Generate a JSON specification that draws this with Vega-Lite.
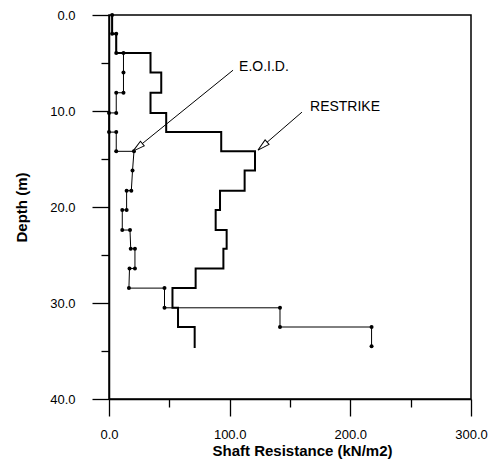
{
  "$schema": "https://vega.github.io/schema/vega-lite/v6.json",
  "width": 362,
  "height": 384,
  "autosize": {"type": "none"},
  "padding": {"left": 109, "top": 15, "right": 28, "bottom": 67},
  "background": "white",
  "config": {
    "view": {"stroke": "black", "strokeWidth": 1.5},
    "font": "Liberation Sans",
    "text": {"font": "Liberation Sans"}
  },
  "resolve": {"axis": {"x": "independent", "y": "independent"}},
  "datasets": {
    "profiles": [
      {"series": "E.O.I.D.", "i": 1, "res": 2.6, "depth": 0},
      {"series": "E.O.I.D.", "i": 2, "res": 2.6, "depth": 1.95},
      {"series": "E.O.I.D.", "i": 3, "res": 6, "depth": 1.95},
      {"series": "E.O.I.D.", "i": 4, "res": 6, "depth": 3.95},
      {"series": "E.O.I.D.", "i": 5, "res": 12, "depth": 3.95},
      {"series": "E.O.I.D.", "i": 6, "res": 12, "depth": 6.0},
      {"series": "E.O.I.D.", "i": 7, "res": 12, "depth": 8.1},
      {"series": "E.O.I.D.", "i": 8, "res": 6, "depth": 8.1},
      {"series": "E.O.I.D.", "i": 9, "res": 6, "depth": 10.2},
      {"series": "E.O.I.D.", "i": 10, "res": 0, "depth": 10.2},
      {"series": "E.O.I.D.", "i": 11, "res": 0, "depth": 12.2},
      {"series": "E.O.I.D.", "i": 12, "res": 6, "depth": 12.2},
      {"series": "E.O.I.D.", "i": 13, "res": 6, "depth": 14.2},
      {"series": "E.O.I.D.", "i": 14, "res": 20.7, "depth": 14.2},
      {"series": "E.O.I.D.", "i": 15, "res": 19.5, "depth": 16.2},
      {"series": "E.O.I.D.", "i": 16, "res": 18.5, "depth": 18.3},
      {"series": "E.O.I.D.", "i": 17, "res": 14.6, "depth": 18.3},
      {"series": "E.O.I.D.", "i": 18, "res": 14.6, "depth": 20.3},
      {"series": "E.O.I.D.", "i": 19, "res": 11, "depth": 20.3},
      {"series": "E.O.I.D.", "i": 20, "res": 11, "depth": 22.4},
      {"series": "E.O.I.D.", "i": 21, "res": 17.4, "depth": 22.4},
      {"series": "E.O.I.D.", "i": 22, "res": 18, "depth": 24.35},
      {"series": "E.O.I.D.", "i": 23, "res": 21.5, "depth": 24.35},
      {"series": "E.O.I.D.", "i": 24, "res": 21.5, "depth": 26.4},
      {"series": "E.O.I.D.", "i": 25, "res": 17, "depth": 26.4},
      {"series": "E.O.I.D.", "i": 26, "res": 16.5, "depth": 28.45},
      {"series": "E.O.I.D.", "i": 27, "res": 46, "depth": 28.45},
      {"series": "E.O.I.D.", "i": 28, "res": 46, "depth": 30.5},
      {"series": "E.O.I.D.", "i": 29, "res": 141.7, "depth": 30.5},
      {"series": "E.O.I.D.", "i": 30, "res": 141.7, "depth": 32.5},
      {"series": "E.O.I.D.", "i": 31, "res": 217.6, "depth": 32.5},
      {"series": "E.O.I.D.", "i": 32, "res": 217.6, "depth": 34.5},
      {"series": "RESTRIKE", "i": 1, "res": 2.6, "depth": 0},
      {"series": "RESTRIKE", "i": 2, "res": 2.6, "depth": 1.95},
      {"series": "RESTRIKE", "i": 3, "res": 6, "depth": 1.95},
      {"series": "RESTRIKE", "i": 4, "res": 6, "depth": 3.95},
      {"series": "RESTRIKE", "i": 5, "res": 34.4, "depth": 3.95},
      {"series": "RESTRIKE", "i": 6, "res": 34.4, "depth": 6.0},
      {"series": "RESTRIKE", "i": 7, "res": 43.3, "depth": 6.0},
      {"series": "RESTRIKE", "i": 8, "res": 43.3, "depth": 8.1},
      {"series": "RESTRIKE", "i": 9, "res": 34.4, "depth": 8.1},
      {"series": "RESTRIKE", "i": 10, "res": 34.4, "depth": 10.2},
      {"series": "RESTRIKE", "i": 11, "res": 47.4, "depth": 10.2},
      {"series": "RESTRIKE", "i": 12, "res": 47.4, "depth": 12.2},
      {"series": "RESTRIKE", "i": 13, "res": 93, "depth": 12.2},
      {"series": "RESTRIKE", "i": 14, "res": 93, "depth": 14.2},
      {"series": "RESTRIKE", "i": 15, "res": 121, "depth": 14.2},
      {"series": "RESTRIKE", "i": 16, "res": 121, "depth": 16.2},
      {"series": "RESTRIKE", "i": 17, "res": 112.4, "depth": 16.2},
      {"series": "RESTRIKE", "i": 18, "res": 112.4, "depth": 18.3},
      {"series": "RESTRIKE", "i": 19, "res": 92, "depth": 18.3},
      {"series": "RESTRIKE", "i": 20, "res": 92, "depth": 20.3},
      {"series": "RESTRIKE", "i": 21, "res": 88.4, "depth": 20.3},
      {"series": "RESTRIKE", "i": 22, "res": 88.4, "depth": 22.4},
      {"series": "RESTRIKE", "i": 23, "res": 97.5, "depth": 22.4},
      {"series": "RESTRIKE", "i": 24, "res": 97.5, "depth": 24.35},
      {"series": "RESTRIKE", "i": 25, "res": 94.8, "depth": 24.35},
      {"series": "RESTRIKE", "i": 26, "res": 94.8, "depth": 26.4},
      {"series": "RESTRIKE", "i": 27, "res": 71.8, "depth": 26.4},
      {"series": "RESTRIKE", "i": 28, "res": 71.8, "depth": 28.45},
      {"series": "RESTRIKE", "i": 29, "res": 52.6, "depth": 28.45},
      {"series": "RESTRIKE", "i": 30, "res": 52.6, "depth": 30.5},
      {"series": "RESTRIKE", "i": 31, "res": 57.2, "depth": 30.5},
      {"series": "RESTRIKE", "i": 32, "res": 57.2, "depth": 32.5},
      {"series": "RESTRIKE", "i": 33, "res": 71, "depth": 32.5},
      {"series": "RESTRIKE", "i": 34, "res": 71, "depth": 34.7}
    ],
    "notes": [
      {"label": "E.O.I.D.", "res": 128.4, "depth": 5.44, "res2": 102.8, "depth2": 5.75, "tipres": 19.9, "tipdepth": 14.18},
      {"label": "RESTRIKE", "res": 195.6, "depth": 9.57, "res2": 159.9, "depth2": 10.12, "tipres": 123.5, "tipdepth": 14.07}
    ]
  },
  "layer": [
    {
      "data": {"name": "profiles"},
      "transform": [{"filter": "datum.series === 'E.O.I.D.'"}],
      "mark": {"type": "line", "color": "black", "strokeWidth": 1},
      "encoding": {
        "x": {"field": "res", "type": "quantitative", "title": "Shaft Resistance (kN/m2)",
          "scale": {"domain": [0, 300], "nice": false, "zero": false},
          "axis": {
            "orient": "bottom",
            "values": [0, 100, 200, 300],
            "format": ".1f",
            "ticks": true,
            "tickSize": 17,
            "grid": false, "domainColor": "black", "domainWidth": 1.5, "tickColor": "black", "tickWidth": 1.3,
            "labelFont": "Liberation Sans", "labelFontSize": 13, "labelColor": "black", "labelPadding": 12,
            "labelFlush": false, "labelOverlap": false,
            "titleFont": "Liberation Sans", "titleFontSize": 15, "titleFontWeight": "bold", "titleColor": "black", "titlePadding": 2,
            "titleX": 193, "titleAlign": "center"
          }},
        "y": {"field": "depth", "type": "quantitative", "title": "Depth (m)",
          "scale": {"domain": [0, 40], "reverse": true, "nice": false, "zero": false},
          "axis": {
            "orient": "left",
            "values": [0, 10, 20, 30, 40],
            "format": ".1f",
            "ticks": true,
            "tickSize": 17,
            "grid": false, "domainColor": "black", "domainWidth": 1.5, "tickColor": "black", "tickWidth": 1.3,
            "labelFont": "Liberation Sans", "labelFontSize": 13, "labelColor": "black", "labelPadding": 17,
            "labelFlush": false, "labelOverlap": false,
            "titleFont": "Liberation Sans", "titleFontSize": 15, "titleFontWeight": "bold", "titleColor": "black", "titlePadding": 20
          }},
        "order": {"field": "i", "type": "quantitative"}
      }
    },
    {
      "data": {"name": "profiles"},
      "transform": [{"filter": "datum.series === 'RESTRIKE'"}],
      "mark": {"type": "line", "color": "black", "strokeWidth": 2},
      "encoding": {
        "x": {"field": "res", "type": "quantitative", "scale": {"domain": [0, 300], "nice": false, "zero": false},
          "axis": {
            "orient": "bottom",
            "values": [50, 150, 250],
            "ticks": true,
            "tickSize": 8, "labels": false, "domain": false, "title": null, "grid": false,
            "tickColor": "black", "tickWidth": 1.3
          }},
        "y": {"field": "depth", "type": "quantitative", "scale": {"domain": [0, 40], "reverse": true, "nice": false, "zero": false},
          "axis": {
            "orient": "left",
            "values": [5, 15, 25, 35],
            "ticks": true,
            "tickSize": 8, "labels": false, "domain": false, "title": null, "grid": false,
            "tickColor": "black", "tickWidth": 1.3
          }},
        "order": {"field": "i", "type": "quantitative"}
      }
    },
    {
      "data": {"name": "profiles"},
      "transform": [{"filter": "datum.series === 'E.O.I.D.'"}],
      "mark": {"type": "point", "filled": true, "color": "black", "size": 16, "opacity": 1},
      "encoding": {
        "x": {"field": "res", "type": "quantitative", "axis": null, "scale": {"domain": [0, 300], "nice": false, "zero": false}},
        "y": {"field": "depth", "type": "quantitative", "axis": null, "scale": {"domain": [0, 40], "reverse": true, "nice": false, "zero": false}}
      }
    },
    {
      "data": {"name": "notes"},
      "mark": {"type": "rule", "color": "black", "strokeWidth": 1},
      "encoding": {
        "x": {"field": "res2", "type": "quantitative", "axis": null, "scale": {"domain": [0, 300], "nice": false, "zero": false}},
        "y": {"field": "depth2", "type": "quantitative", "axis": null, "scale": {"domain": [0, 40], "reverse": true, "nice": false, "zero": false}},
        "x2": {"field": "tipres"},
        "y2": {"field": "tipdepth"}
      }
    },
    {
      "data": {"name": "notes"},
      "transform": [{"filter": "datum.label === 'E.O.I.D.'"}],
      "mark": {"type": "point", "shape": "M0,0L0.5,2L-0.5,2Z", "size": 144, "angle": 231, "filled": true, "fill": "white", "stroke": "black", "strokeWidth": 1, "opacity": 1},
      "encoding": {
        "x": {"field": "tipres", "type": "quantitative", "axis": null, "scale": {"domain": [0, 300], "nice": false, "zero": false}},
        "y": {"field": "tipdepth", "type": "quantitative", "axis": null, "scale": {"domain": [0, 40], "reverse": true, "nice": false, "zero": false}}
      }
    },
    {
      "data": {"name": "notes"},
      "transform": [{"filter": "datum.label === 'RESTRIKE'"}],
      "mark": {"type": "point", "shape": "M0,0L0.5,2L-0.5,2Z", "size": 144, "angle": 229, "filled": true, "fill": "white", "stroke": "black", "strokeWidth": 1, "opacity": 1},
      "encoding": {
        "x": {"field": "tipres", "type": "quantitative", "axis": null, "scale": {"domain": [0, 300], "nice": false, "zero": false}},
        "y": {"field": "tipdepth", "type": "quantitative", "axis": null, "scale": {"domain": [0, 40], "reverse": true, "nice": false, "zero": false}}
      }
    },
    {
      "data": {"name": "notes"},
      "mark": {"type": "text", "font": "Liberation Sans", "fontSize": 14, "color": "black", "align": "center", "baseline": "middle"},
      "encoding": {
        "x": {"field": "res", "type": "quantitative", "axis": null, "scale": {"domain": [0, 300], "nice": false, "zero": false}},
        "y": {"field": "depth", "type": "quantitative", "axis": null, "scale": {"domain": [0, 40], "reverse": true, "nice": false, "zero": false}},
        "text": {"field": "label"}
      }
    }
  ]
}
